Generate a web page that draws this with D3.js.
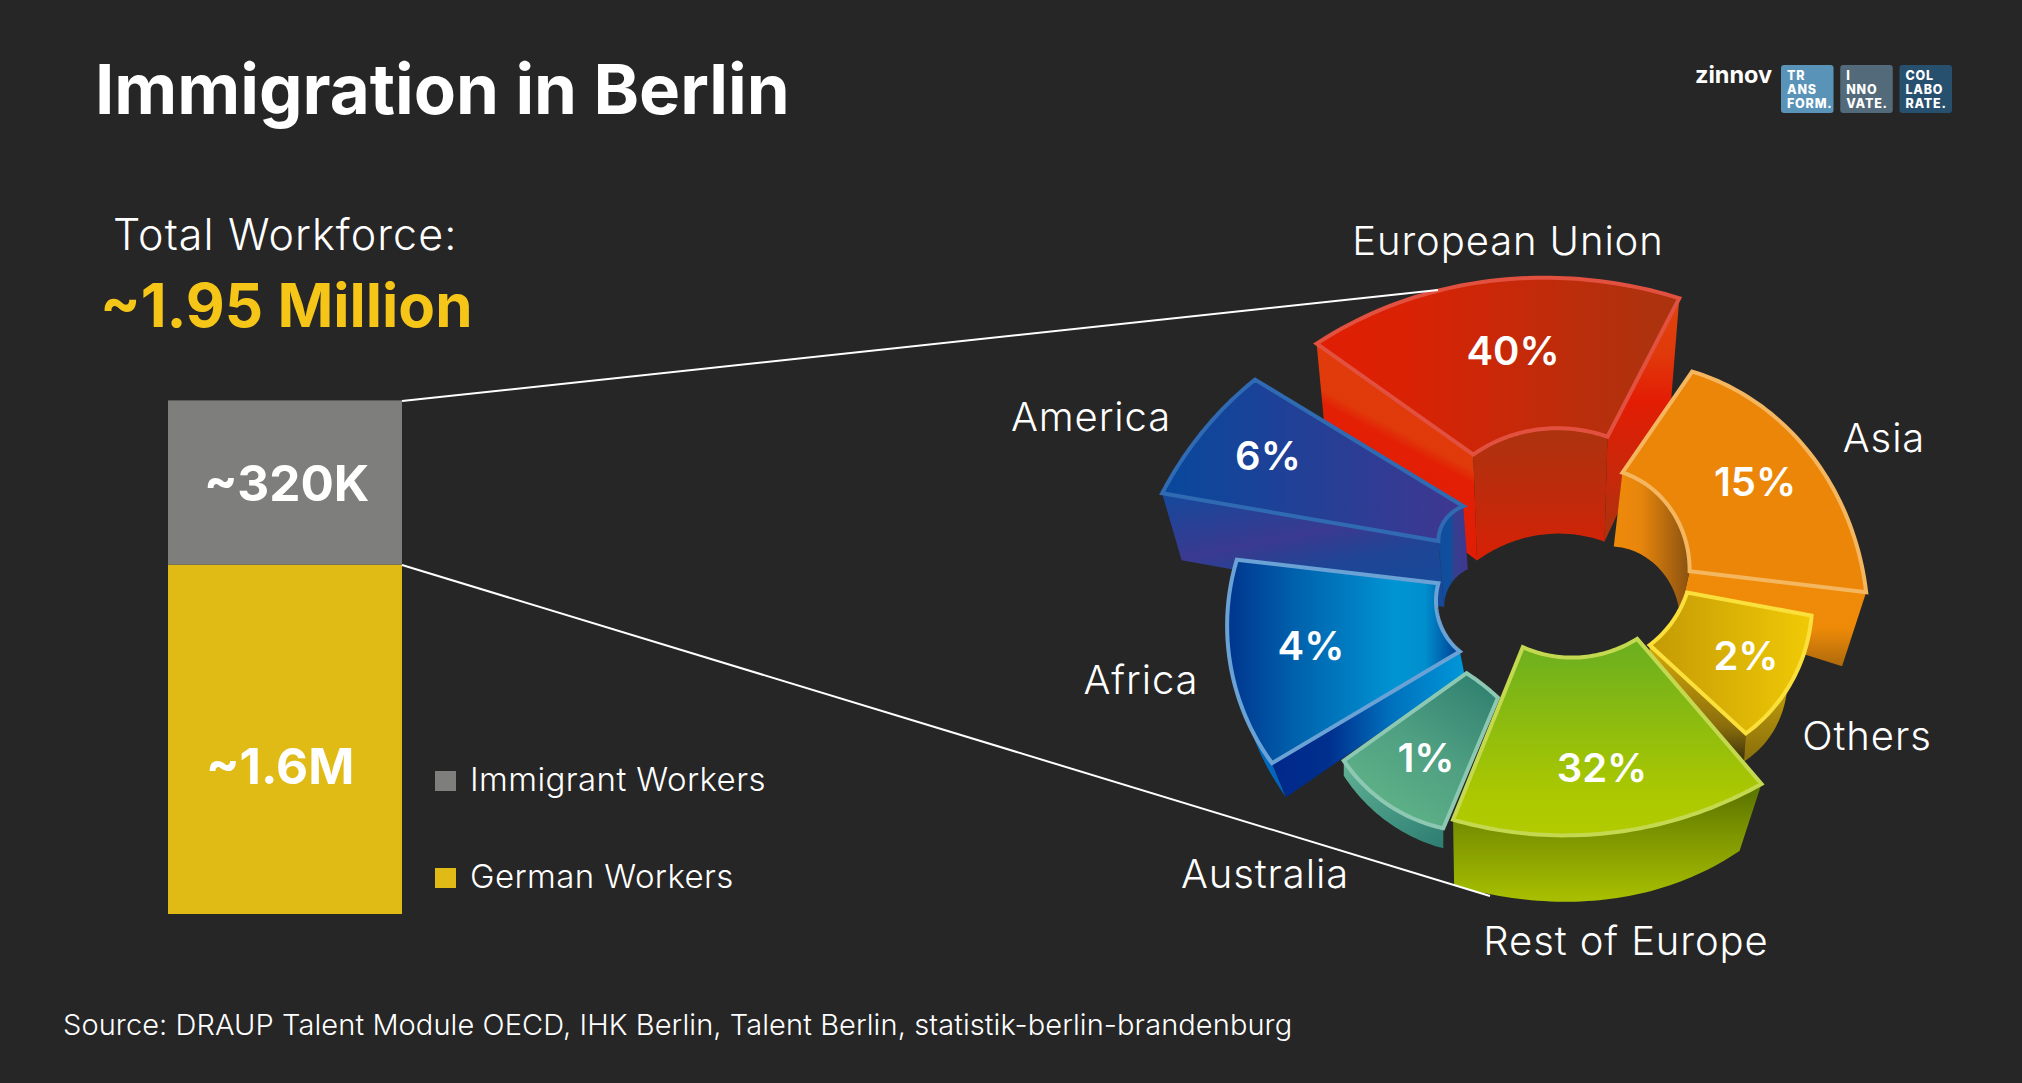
<!DOCTYPE html>
<html><head><meta charset="utf-8">
<script src="https://cdn.jsdelivr.net/npm/d3@7"></script>
<style>html,body{margin:0;background:#262626}svg{display:block}text{font-family:Inter,"Noto Sans",sans-serif;fill:#fff}</style>
</head><body><svg id="c" width="2022" height="1083"></svg>
<script>
// ---- data ----
const titleText = "Immigration in Berlin";
const sourceText = "Source: DRAUP Talent Module OECD, IHK Berlin, Talent Berlin, statistik-berlin-brandenburg";
const totalLabel = "Total Workforce:";
const totalValue = "~1.95 Million";
const barSeries = ["German Workers", "Immigrant Workers"];
const barValues = [1600, 320];           // thousands
const barLabels = ["~1.6M", "~320K"];
const regions = ["European Union", "America", "Africa", "Asia", "Others", "Australia", "Rest of Europe"];
const shares  = [40, 6, 4, 15, 2, 1, 32];
// the drawn (perspective) sweep of every slice, degrees clockwise from north
const sweepStart = [-54.7, -80.2, 239.3, 34.6, 100.5, 202.7, 139.4];
const sweepEnd   = [27.4, -58.7, 276.7, 96.8, 132.6, 234.5, 202];

// ---- layout, per region ----
const geom = {
 "European Union":{c:[1564.7,519.3],ro:[304,247,249],ri:[112,93,93],dOut:[104,100],dIn:[106,105],sx:[.96,.93],faces:["start","end","inner"],
   lx:1513,ly:365,name:[1508,255]},
 "America":{c:[1553.3,560.9],ro:[397,373,349],ri:[116.6,115.7,105.3],dOut:[67,67],dIn:[66,63],sx:[.95,.95],faces:["start","inner"],
   lx:1268,ly:470,name:[1091,431]},
 "Africa":{c:[1552.3,596.7],ro:[326,329,317.6],ri:[107.5,115.8,114.7],dOut:[34,30],dIn:[23,20],sx:[.95,.98],faces:["outer","start"],
   lx:1311,ly:660,name:[1141,694]},
 "Asia":{c:[1564.7,556.3],ro:[224.4,264,303.6],ri:[101.7,116,125.8],dOut:[74,74],dIn:[74,44],sx:[.85,.92],faces:["end","inner"],
   lx:1755,ly:496,name:[1884,452]},
 "Others":{c:[1568.7,570.6],ro:[247,249,240.6],ri:[120.4,115.5,110],dOut:[48,28],dIn:[30,28],sx:[.9,.99],faces:["end","outer"],
   lx:1746,ly:670,name:[1867,750]},
 "Australia":{c:[1525.9,630.8],ro:[214,222,223.7],ri:[72.5,69,72.9],dOut:[20,15],dIn:[18,18],sx:[1,1],faces:["outer"],
   lx:1426,ly:772,name:[1265,888]},
 "Rest of Europe":{c:[1561.7,550.8],ro:[307,286,290],ri:[116,108,103.9],dOut:[67,66],dIn:[66,66],sx:[.89,.99],faces:["outer"],
   lx:1602,ly:782,name:[1626,955]}
};
// gradients: [x1,y1,x2,y2,[[offset,colour]...]]
const paint = {
 "European Union":{stroke:"#e2503f",
   top:[0,.5,1,.5,[[0,"#e01e04"],[.25,"#d92205"],[1,"#a9340f"]]],
   start:[.6,0,.23,.94,[[0,"#e23d0b"],[.4,"#e03a0b"],[.46,"#e31f04"],[.8,"#e01e05"],[1,"#cc2408"]]],
   end:[.5,0,.5,1,[[0,"#e0430c"],[.22,"#e03a0b"],[.42,"#e31d04"],[.72,"#c8280a"],[1,"#a9340f"]]],
   inner:[.5,0,.5,1,[[0,"#ac330f"],[.55,"#c02a0b"],[1,"#d82005"]]]},
 "America":{stroke:"#2f6ab2",
   top:[0,.5,1,.5,[[0,"#08489c"],[1,"#403790"]]],
   start:[.1,0,.6,1,[[0,"#17479a"],[.45,"#3a3a90"],[.7,"#1f4595"],[1,"#16499a"]]],
   inner:[0,.5,1,.5,[[0,"#124c9c"],[.45,"#104f9e"],[.5,"#33408f"],[1,"#403790"]]]},
 "Africa":{stroke:"#6aa2d6",
   top:[0,.5,1,.5,[[0,"#00358e"],[.3,"#0062ad"],[.72,"#0094d3"],[.85,"#008fce"],[1,"#003b91"]]],
   start:[0,.5,1,.5,[[0,"#00288a"],[.3,"#00308e"],[.62,"#0071bd"],[1,"#0097d8"]]],
   outer:[0,0,1,1,[[0,"#0a85d0"],[1,"#0060b8"]]]},
 "Asia":{stroke:"#f4b75f",
   top:[0,.5,1,.5,[[0,"#ec8609"],[1,"#ec8609"]]],
   end:[.5,0,.5,1,[[0,"#ef8b08"],[.6,"#ee8a08"],[1,"#ad6a0c"]]],
   inner:[0,.5,1,.5,[[0,"#ee8a0a"],[.35,"#e8860c"],[1,"#8a5210"]]]},
 "Others":{stroke:"#fbe03c",
   top:[0,.5,1,.5,[[0,"#c49a05"],[1,"#f0ca06"]]],
   end:[.5,0,.5,1,[[0,"#d8a80a"],[.7,"#8a6e0c"],[1,"#3a300c"]]],
   outer:[.5,0,.5,1,[[0,"#f0c808"],[1,"#8a6e0c"]]]},
 "Australia":{stroke:"#8cc8b2",
   top:[.9,0,.3,.9,[[0,"#2f7f70"],[.55,"#4f9f82"],[1,"#5db186"]]],
   outer:[0,0,1,1,[[0,"#5fb094"],[1,"#2d7e72"]]]},
 "Rest of Europe":{stroke:"#c4d94f",
   top:[.5,0,.5,1,[[0,"#69ae20"],[.8,"#acc800"],[1,"#b2cb00"]]],
   outer:[.5,.1,.5,1,[[0,"#5f7800"],[.35,"#7c9400"],[1,"#a9c000"]]]}
};

const svg = d3.select("#c");
svg.append("rect").attr("width",2022).attr("height",1083).attr("fill","#262626");
const defs = svg.append("defs");
function grad(id, g){
  const lg = defs.append("linearGradient").attr("id",id)
    .attr("x1",g[0]).attr("y1",g[1]).attr("x2",g[2]).attr("y2",g[3]);
  g[4].forEach(s=>lg.append("stop").attr("offset",s[0]).attr("stop-color",s[1]));
  return `url(#${id})`;
}

// ---- headline ----
svg.append("text").attr("x",95).attr("y",114).attr("font-size",69).attr("font-weight",700).text(titleText);
svg.append("text").attr("x",113).attr("y",250).attr("font-size",43).attr("font-weight",300).attr("letter-spacing",1.1).text(totalLabel);
svg.append("text").attr("x",100).attr("y",327).attr("font-size",60).attr("font-weight",700).style("fill","#f5c518").text(totalValue);
svg.append("text").attr("x",63).attr("y",1035).attr("font-size",29).attr("font-weight",300).attr("letter-spacing",.09).text(sourceText);

// ---- logo ----
const logoWord = "zinnov";
const logoTiles = [["TR","ANS","FORM."],["I","NNO","VATE."],["COL","LABO","RATE."]];
const logoColours = ["#5a93b8","#536a7a","#27506f"];
svg.append("text").attr("x",1695).attr("y",83).attr("font-size",23.5).attr("font-weight",700).text(logoWord);
const tileX = d3.scaleBand().domain(d3.range(3)).range([1781,1952]).paddingInner(.113);
logoTiles.forEach((tile,i)=>{
  svg.append("rect").attr("x",tileX(i)).attr("y",65).attr("width",tileX.bandwidth()).attr("height",48).attr("rx",3).attr("fill",logoColours[i]);
  tile.forEach((s,j)=>svg.append("text").attr("x",tileX(i)+6).attr("y",80+j*14).attr("font-size",12.5)
    .attr("font-weight",800).attr("letter-spacing",.8).text(s));
});

// ---- stacked bar ----
const barColours = ["#e1bb15","#7e7e7c"];
const yBar = d3.scaleLinear().domain([0,barValues[0],d3.sum(barValues)]).range([914,564.6,400.4]);
const xBar = d3.scaleBand().domain(["workforce"]).range([168,402]);
const stack = d3.cumsum(barValues);
barValues.forEach((v,i)=>{
  svg.append("rect").attr("x",xBar("workforce")).attr("width",xBar.bandwidth())
    .attr("y",yBar(stack[i])).attr("height",yBar(stack[i]-v)-yBar(stack[i])).attr("fill",barColours[i]);
  svg.append("text").attr("x",i?204:206).attr("y",i?501:784).attr("font-size",49.5).attr("font-weight",700).text(barLabels[i]);
});
// legend
const legendY = d3.scalePoint().domain(["Immigrant Workers","German Workers"]).range([781,878]);
barSeries.forEach((s,i)=>{
  svg.append("rect").attr("x",435).attr("y",legendY(s)-10).attr("width",21).attr("height",20).attr("fill",barColours[i]);
  svg.append("text").attr("x",470).attr("y",legendY(s)+10).attr("font-size",33).attr("font-weight",300).attr("letter-spacing",.4).text(s);
});

// ---- exploded 3-D ring ----
const rad = Math.PI/180, ts = d3.range(0,1.0001,1/48);
const quad = (a,t)=> a[0]*(1-t)*(1-2*t) + a[1]*4*t*(1-t) + a[2]*t*(2*t-1);
const lerp = (a,t)=> a[0]+(a[1]-a[0])*t;
const line = d3.line();
regions.forEach((name,i)=>{
  const g = geom[name], p = paint[name];
  const ang = d3.scaleLinear().domain([0,1]).range([sweepStart[i]*rad, sweepEnd[i]*rad]);
  const upper = (radii,t)=>{const r=quad(radii,t),a=ang(t);return [g.c[0]+r*Math.sin(a), g.c[1]-r*Math.cos(a)];};
  const lower = (radii,dep,t)=>{const r=quad(radii,t),a=ang(t);return [g.c[0]+r*Math.sin(a)*lerp(g.sx,t), g.c[1]-r*Math.cos(a)+lerp(dep,t)];};
  const outerU = ts.map(t=>upper(g.ro,t)), innerU = ts.map(t=>upper(g.ri,t));
  const outerL = ts.map(t=>lower(g.ro,g.dOut,t)), innerL = ts.map(t=>lower(g.ri,g.dIn,t));
  const faceShape = {
    start:[outerU[0],innerU[0],innerL[0],outerL[0]],
    end:[outerU[48],innerU[48],innerL[48],outerL[48]],
    outer:outerU.concat(outerL.slice().reverse()),
    inner:innerU.concat(innerL.slice().reverse())
  };
  const layer = svg.append("g").attr("class","slice").attr("data-region",name);
  g.faces.forEach(f=>layer.append("path").attr("d",line(faceShape[f])+"Z")
     .attr("fill",grad(`g${i}${f}`,p[f])));
  layer.append("path").attr("d",line(outerU.concat(innerU.slice().reverse()))+"Z")
     .attr("fill",grad(`g${i}top`,p.top)).attr("stroke",p.stroke).attr("stroke-width",4).attr("stroke-linejoin","miter");
  svg.append("text").attr("x",g.lx).attr("y",g.ly).attr("text-anchor","middle").attr("font-size",40).attr("font-weight",600).text(shares[i]+"%");
  svg.append("text").attr("x",g.name[0]).attr("y",g.name[1]).attr("text-anchor","middle").attr("font-size",40).attr("font-weight",300).attr("letter-spacing",.9).text(name);
});

// ---- connector lines ----
const connectors = [[[402,401],[1438,290]],[[402,565],[1490,896]]];
connectors.forEach(c=>svg.append("path").attr("d",line(c)).attr("stroke","#fff").attr("stroke-width",2).attr("fill","none"));
</script></body></html>
